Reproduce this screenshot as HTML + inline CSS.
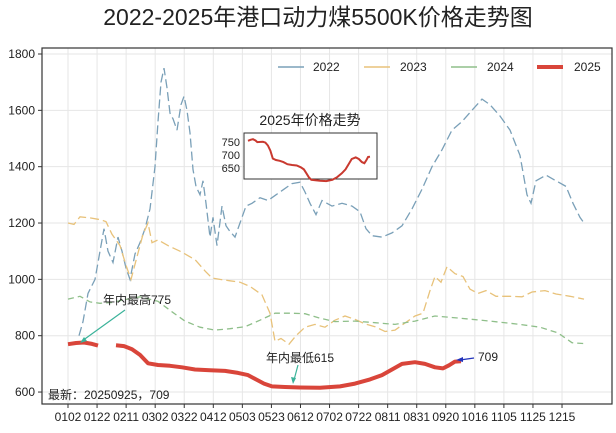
<!DOCTYPE html>
<html><head><meta charset="utf-8"><style>
html,body{margin:0;padding:0;background:#fff;}
svg{display:block;font-family:"Liberation Sans","Noto Sans CJK SC",sans-serif;}
</style></head><body>
<svg id="s" width="616" height="433" viewBox="0 0 616 433" xmlns="http://www.w3.org/2000/svg">
<rect width="616" height="433" fill="#fff"/>
<text x="318" y="25" font-size="23" text-anchor="middle" fill="#222">2022-2025年港口动力煤5500K价格走势图</text>
<g id="grid" stroke="#e6e6e6" stroke-width="1"></g>
<g id="series" fill="none"></g>
<rect x="42" y="48" width="570" height="356" fill="none" stroke="#333" stroke-width="1.2"/>
<g id="ticks" font-size="12" fill="#222"></g>
<!-- legend -->
<g font-size="12" fill="#222">
<line x1="278" y1="67" x2="304" y2="67" stroke="#7aa0b8" stroke-width="1.5"/><text x="313" y="71">2022</text>
<line x1="364" y1="67" x2="390" y2="67" stroke="#e8c27a" stroke-width="1.5"/><text x="400" y="71">2023</text>
<line x1="451" y1="67" x2="477" y2="67" stroke="#8fbf8a" stroke-width="1.5"/><text x="487" y="71">2024</text>
<line x1="537" y1="67" x2="563" y2="67" stroke="#d9453a" stroke-width="4"/><text x="574" y="71">2025</text>
</g>
<!-- inset -->
<text x="310" y="125" font-size="14" text-anchor="middle" fill="#222">2025年价格走势</text>
<rect x="244" y="133" width="133" height="46" fill="#fff" stroke="#333" stroke-width="1"/>
<g font-size="11" fill="#222" text-anchor="end">
<text x="240" y="146">750</text><text x="240" y="159">700</text><text x="240" y="172">650</text>
</g>
<path id="inset" fill="none" stroke="#c9392f" stroke-width="2"/>
<!-- annotations -->
<g font-size="12" fill="#222">
<text x="103" y="304">年内最高775</text>
<text x="266" y="362">年内最低615</text>
<text x="478" y="361">709</text>
<text x="48" y="399">最新：20250925，709</text>
</g>
<line x1="125" y1="310" x2="82" y2="341" stroke="#3bb39a" stroke-width="1.2"/>
<path d="M80,343 l7,-2 l-3,-4z" fill="#3bb39a"/>
<line x1="298" y1="365" x2="294" y2="380" stroke="#3bb39a" stroke-width="1.2"/>
<path d="M293,384 l-2,-7 l5,1z" fill="#3bb39a"/>
<line x1="474" y1="358" x2="460" y2="360" stroke="#2233bb" stroke-width="1.2"/>
<path d="M456,360 l7,-3 l0,5z" fill="#2233bb"/>
</svg>
<script>
const NS="http://www.w3.org/2000/svg";
const Y=v=>54+(1800-v)*0.2817;
const grid=document.getElementById('grid'),ticks=document.getElementById('ticks'),ser=document.getElementById('series');
function el(t,a,p){const e=document.createElementNS(NS,t);for(const k in a)e.setAttribute(k,a[k]);p.appendChild(e);return e;}
[600,800,1000,1200,1400,1600,1800].forEach(v=>{const y=Y(v);el('line',{x1:42,x2:612,y1:y,y2:y},grid);
 el('line',{x1:38,x2:42,y1:y,y2:y,stroke:'#333'},ticks);const t=el('text',{x:35,y:y+4,'text-anchor':'end'},ticks);t.textContent=v;});
const lab=["0102","0122","0211","0302","0322","0412","0503","0523","0612","0702","0722","0811","0831","0920","1016","1105","1125","1215"];
lab.forEach((l,i)=>{const x=68+i*29.06;el('line',{x1:x,x2:x,y1:48,y2:404},grid);
 el('line',{x1:x,x2:x,y1:404,y2:408,stroke:'#333'},ticks);const t=el('text',{x:x,y:421,'text-anchor':'middle'},ticks);t.textContent=l;});
function path(pts){return pts.map((p,i)=>(i?'L':'M')+p[0]+','+Y(p[1]).toFixed(1)).join('');}
const b=[[79,800],[83,850],[88,950],[95,1000],[100,1100],[104,1180],[108,1100],[113,1060],[118,1150],[122,1100],[126,1040],[130,1000],[135,1090],[140,1130],[145,1180],[150,1250],[155,1400],[158,1560],[161,1700],[164,1750],[167,1680],[170,1590],[173,1570],[177,1530],[181,1620],[184,1650],[187,1600],[190,1520],[193,1390],[196,1330],[200,1300],[203,1350],[206,1270],[210,1150],[213,1220],[217,1120],[222,1260],[226,1190],[230,1170],[235,1150],[240,1200],[246,1260],[252,1270],[260,1290],[268,1280],[276,1300],[284,1320],[292,1340],[300,1345],[305,1310],[310,1270],[316,1230],[322,1280],[332,1260],[342,1270],[352,1260],[360,1240],[366,1180],[372,1155],[382,1150],[392,1165],[402,1190],[412,1250],[422,1320],[432,1400],[442,1460],[452,1530],[462,1560],[472,1600],[482,1640],[490,1620],[500,1580],[510,1530],[520,1440],[527,1300],[531,1270],[536,1350],[546,1370],[556,1350],[566,1330],[573,1270],[580,1220],[584,1200]];
const o=[[68,1200],[74,1195],[80,1222],[90,1218],[100,1212],[106,1205],[112,1160],[120,1120],[126,1050],[131,1000],[137,1080],[143,1160],[148,1200],[152,1130],[158,1140],[168,1120],[180,1100],[195,1070],[205,1030],[212,1005],[220,1000],[230,995],[240,990],[250,975],[262,945],[270,880],[275,780],[281,790],[289,770],[296,800],[305,830],[315,840],[325,830],[335,855],[345,870],[355,858],[365,842],[375,832],[385,815],[395,820],[405,845],[415,870],[423,880],[430,960],[435,1010],[441,990],[447,1045],[455,1020],[463,1010],[470,965],[478,950],[486,960],[496,940],[510,940],[522,938],[532,955],[545,960],[556,948],[570,940],[584,930]];
const g=[[68,930],[80,940],[90,920],[100,915],[112,918],[125,928],[140,938],[158,922],[172,885],[185,852],[200,830],[215,820],[230,825],[245,832],[260,855],[275,880],[290,880],[305,878],[320,862],[335,850],[355,852],[375,846],[395,840],[415,852],[435,870],[460,862],[490,852],[520,840],[540,830],[558,810],[572,775],[584,772]];
el('path',{d:path(b),stroke:'#7aa0b8','stroke-width':1.3,'stroke-dasharray':'9 4'},ser);
el('path',{d:path(o),stroke:'#e8c27a','stroke-width':1.3,'stroke-dasharray':'9 4'},ser);
el('path',{d:path(g),stroke:'#8fbf8a','stroke-width':1.3,'stroke-dasharray':'6 4'},ser);
const r1=[[68,770],[76,774],[84,776],[92,771],[98,765]];
const r2=[[116,766],[124,763],[132,752],[140,732],[148,702],[158,696],[170,693],[182,688],[195,680],[210,677],[225,675],[238,668],[248,660],[256,645],[264,630],[272,620],[285,618],[300,616],[320,615],[340,620],[355,630],[370,645],[382,660],[392,680],[402,700],[415,706],[425,700],[435,688],[443,684],[449,695],[455,708],[461,709]];
el('path',{d:path(r1),stroke:'#d9453a','stroke-width':4,'stroke-linejoin':'round'},ser);
el('path',{d:path(r2),stroke:'#d9453a','stroke-width':4,'stroke-linejoin':'round'},ser);
// inset: x 244..377, values 610..780 mapped to y 133..179
const all=r1.concat(r2);
const IX=x=>248+(x-68)/(461-68)*122, IY=v=>146+(750-v)*0.26;
document.getElementById('inset').setAttribute('d',all.map((p,i)=>(i?'L':'M')+IX(p[0]).toFixed(1)+','+IY(p[1]).toFixed(1)).join(''));
</script>
</body></html>
